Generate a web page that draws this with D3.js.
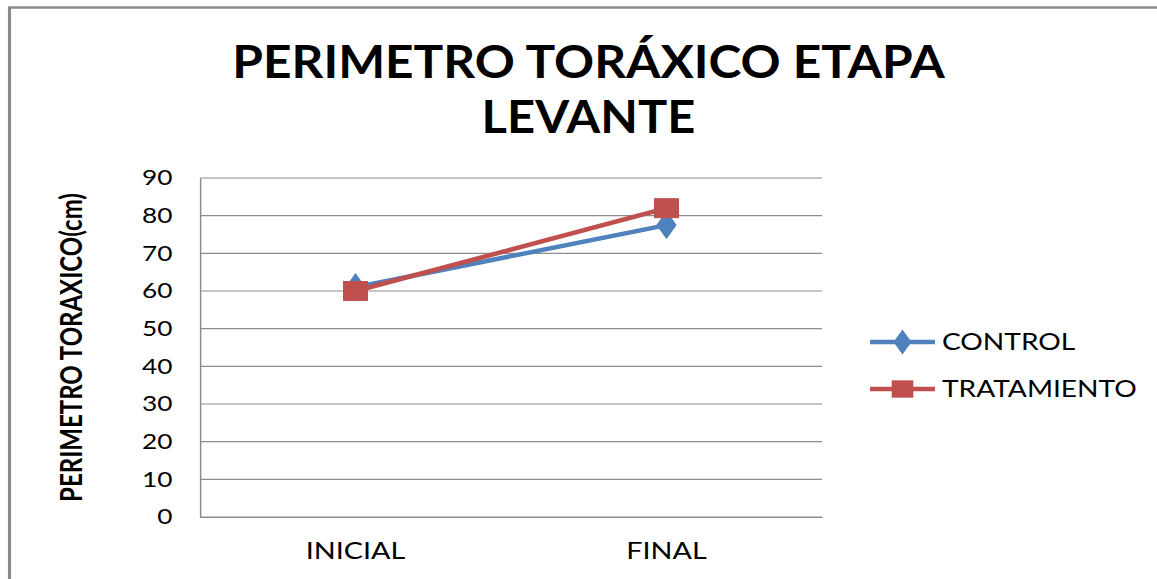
<!DOCTYPE html>
<html lang="es">
<head>
  <meta charset="UTF-8">
  <title>Perimetro toraxico</title>
  <script src="https://d3js.org/d3.v7.min.js"></script>
  <style>
    body { margin: 0; background: #fff; }
    svg { display: block; }
    text { font-family: Lato, "Open Sans", sans-serif; fill: #000; }
  </style>
</head>
<body>
  <svg id="chart"></svg>
  <script>
    const categories = ["INICIAL", "FINAL"];
    const controlValues = [61, 77.5];
    const tratamientoValues = [60, 82];
    const seriesNames = ["CONTROL", "TRATAMIENTO"];
    const yTicks = [0, 10, 20, 30, 40, 50, 60, 70, 80, 90];
    const titleLines = ["PERIMETRO TORÁXICO ETAPA", "LEVANTE"];

    const W = 1157, H = 579;
    // the reference is stretched horizontally, so draw in a narrower box
    const sx = 1.25;
    const vw = W / sx;

    const svg = d3.select("#chart")
      .attr("width", W)
      .attr("height", H)
      .attr("viewBox", `0 0 ${vw} ${H}`)
      .attr("preserveAspectRatio", "none");

    // outer frame
    svg.append("rect")
      .attr("x", 7.6).attr("y", 7.5)
      .attr("width", vw + 20).attr("height", H + 20)
      .attr("fill", "none")
      .attr("stroke", "#8a8a8a")
      .attr("stroke-width", 2.5);

    const margin = { top: 178, left: 160, right: vw - 657.6, bottom: H - 517 };
    const width = vw - margin.left - margin.right;
    const height = H - margin.top - margin.bottom;

    const g = svg.append("g").attr("transform", `translate(${margin.left},${margin.top})`);

    const x = d3.scaleBand().domain(categories).range([0, width]);
    const y = d3.scaleLinear().domain([0, 90]).range([height, 0]);

    // gridlines
    g.selectAll(".grid")
      .data(yTicks)
      .enter().append("line")
      .attr("x1", 0).attr("x2", width)
      .attr("y1", d => y(d)).attr("y2", d => y(d))
      .attr("stroke", "#8c8c8c")
      .attr("stroke-width", 1.2);

    // y axis
    const yAxis = g.append("g")
      .call(d3.axisLeft(y).tickValues(yTicks).tickSize(0).tickPadding(22));
    yAxis.select(".domain").attr("stroke", "#8c8c8c").attr("stroke-width", 1.2);
    yAxis.selectAll("text").attr("font-size", 21).attr("fill", "#000")
      .style("font-family", "Lato, sans-serif");

    // x axis
    const xAxis = g.append("g")
      .attr("transform", `translate(0,${height})`)
      .call(d3.axisBottom(x).tickSize(0).tickPadding(26));
    xAxis.select(".domain").attr("stroke", "#8c8c8c").attr("stroke-width", 1.2);
    xAxis.selectAll("text").attr("font-size", 23).attr("fill", "#000")
      .style("font-family", "Lato, sans-serif");

    const series = [
      { name: seriesNames[0], values: controlValues, color: "#4f81bd", shape: d3.symbolDiamond, size: 230 },
      { name: seriesNames[1], values: tratamientoValues, color: "#c0504d", shape: d3.symbolSquare, size: 400 }
    ];

    const line = d3.line()
      .x((d, i) => x(categories[i]) + x.bandwidth() / 2)
      .y(d => y(d));

    series.forEach(s => {
      g.append("path")
        .datum(s.values)
        .attr("fill", "none")
        .attr("stroke", s.color)
        .attr("stroke-width", 4.5)
        .attr("d", line);
      g.selectAll(null)
        .data(s.values)
        .enter().append("path")
        .attr("d", d3.symbol().type(s.shape).size(s.size))
        .attr("transform", (d, i) => `translate(${x(categories[i]) + x.bandwidth() / 2},${y(d)})`)
        .attr("fill", s.color);
    });

    // title (Lato runs wider than the original font, so squeeze it a bit)
    const title = svg.append("text")
      .attr("text-anchor", "middle")
      .attr("font-size", 45)
      .attr("font-weight", "bold");
    title.append("tspan").attr("x", 470.8).attr("y", 78)
      .attr("textLength", 570).attr("lengthAdjust", "spacingAndGlyphs")
      .text(titleLines[0]);
    title.append("tspan").attr("x", 470.8).attr("y", 133)
      .attr("textLength", 171).attr("lengthAdjust", "spacingAndGlyphs")
      .text(titleLines[1]);

    // y axis label
    svg.append("text")
      .attr("transform", `translate(65.5,347.5) rotate(-90)`)
      .attr("text-anchor", "middle")
      .attr("font-size", 24)
      .attr("font-weight", "bold")
      .text("PERIMETRO TORAXICO(cm)");

    // legend
    const legend = svg.append("g");
    const legendY = [342, 389];
    series.forEach((s, i) => {
      const lg = legend.append("g").attr("transform", `translate(696,${legendY[i]})`);
      lg.append("line")
        .attr("x1", 0).attr("x2", 52)
        .attr("stroke", s.color)
        .attr("stroke-width", 4.5);
      lg.append("path")
        .attr("d", d3.symbol().type(s.shape).size(s.shape === d3.symbolSquare ? 300 : 180))
        .attr("transform", "translate(26,0)")
        .attr("fill", s.color);
      lg.append("text")
        .attr("x", 57.6)
        .attr("dy", "0.36em")
        .attr("font-size", 22.5)
        .text(s.name);
    });
  </script>
</body>
</html>
